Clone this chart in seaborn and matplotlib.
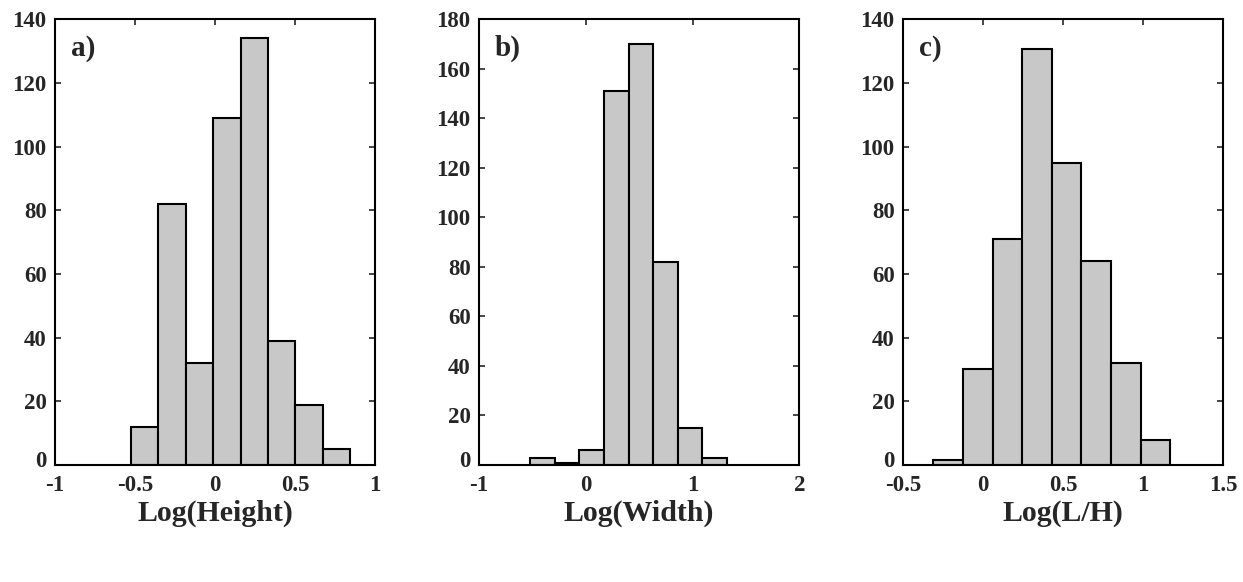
import matplotlib
matplotlib.use("Agg")
import matplotlib.pyplot as plt
import matplotlib.transforms as mtransforms
import seaborn as sns
import numpy as np
import pandas as pd

# Bin edges and counts
height_edges = [-0.525, -0.354, -0.183, -0.012, 0.159, 0.330, 0.501, 0.672, 0.843]
height_counts = [12, 82, 32, 109, 134, 39, 19, 5]

width_edges = [-0.525, -0.293, -0.062, 0.170, 0.400, 0.630, 0.860, 1.090, 1.320]
width_counts = [3, 1, 6, 151, 170, 82, 15, 3]

lh_edges = [-0.311, -0.126, 0.059, 0.244, 0.429, 0.614, 0.799, 0.984, 1.169]
lh_counts = [1.5, 30, 71, 130.7, 95, 64, 32, 8]

panel_labels = ["a)", "b)", "c)"]
x_labels = ["Log(Height)", "Log(Width)", "Log(L/H)"]
x_limits = [(-1, 1), (-1, 2), (-0.5, 1.5)]
x_ticks = [[-1, -0.5, 0, 0.5, 1], [-1, 0, 1, 2], [-0.5, 0, 0.5, 1, 1.5]]
x_ticklabels = [["-1", "-0.5", "0", "0.5", "1"], ["-1", "0", "1", "2"],
                ["-0.5", "0", "0.5", "1", "1.5"]]
y_limits = [(0, 140), (0, 180), (0, 140)]
y_steps = [20, 20, 20]

sns.set_theme(style="ticks")
plt.rcParams["font.family"] = ["Liberation Serif", "DejaVu Serif"]
plt.rcParams["font.weight"] = "bold"

fig = plt.figure(figsize=(12.43, 5.82), dpi=100)
lefts = [0.0442, 0.3854, 0.7265]
axes = [fig.add_axes([l, 0.201, 0.2577, 0.766]) for l in lefts]

datasets = [(height_edges, height_counts), (width_edges, width_counts),
            (lh_edges, lh_counts)]

for i, (ax, (edges, counts)) in enumerate(zip(axes, datasets)):
    e = np.array(edges)
    df = pd.DataFrame({"x": (e[:-1] + e[1:]) / 2, "n": counts})
    sns.histplot(data=df, x="x", weights="n", bins=list(edges), ax=ax,
                 color="#c8c8c8", alpha=1.0, edgecolor="black", linewidth=1.5)
    ax.set_xlim(*x_limits[i])
    ax.set_ylim(*y_limits[i])
    ax.set_xticks(x_ticks[i])
    ax.set_xticklabels(x_ticklabels[i])
    ax.set_yticks(np.arange(0, y_limits[i][1] + 1, y_steps[i]))
    ax.set_xlabel(x_labels[i], fontsize=21.5, fontweight="bold", labelpad=3)
    ax.set_ylabel("")
    ax.tick_params(direction="in", top=True, right=True, length=4, width=1.2,
                   labelsize=16.5)
    ax.tick_params(axis="x", pad=7)
    ax.tick_params(axis="y", pad=6)
    for lab in ax.get_xticklabels() + ax.get_yticklabels():
        lab.set_fontweight("bold")
    # nudge the bottom "0" label up a little so it clears the x tick labels
    zero_lab = ax.get_yticklabels()[0]
    zero_lab.set_transform(zero_lab.get_transform() +
                           mtransforms.ScaledTranslation(0, 4 / 72, fig.dpi_scale_trans))
    for sp in ax.spines.values():
        sp.set_linewidth(1.5)
        sp.set_color("black")
    ax.text(0.05, 0.935, panel_labels[i], transform=ax.transAxes,
            fontsize=21, fontweight="bold", va="center", ha="left")

fig.savefig("out.png", dpi=100)
